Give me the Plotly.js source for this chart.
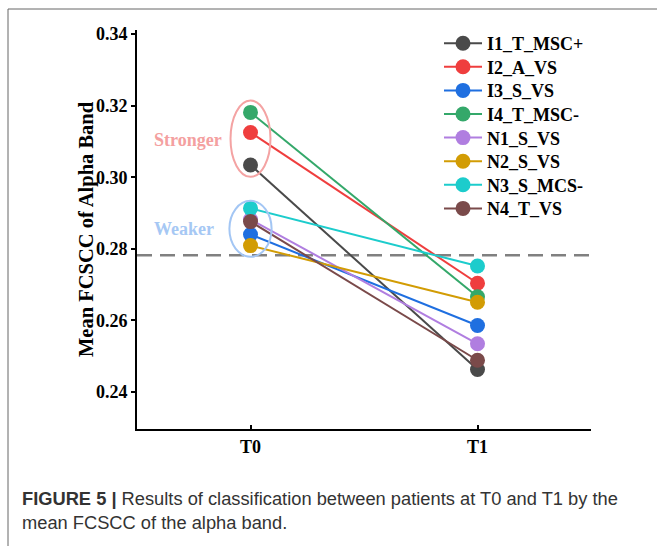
<!DOCTYPE html>
<html>
<head>
<meta charset="utf-8">
<script src="https://cdn.plot.ly/plotly-3.0.1.min.js"></script>
<style>
  html, body { margin: 0; padding: 0; background: #ffffff; }
  #chart { width: 657px; height: 546px; }
</style>
</head>
<body>
<div id="chart"></div>
<script>
// ---- Data ----
const timepoints = ["T0", "T1"];
const seriesNames = ["I1_T_MSC+", "I2_A_VS", "I3_S_VS", "I4_T_MSC-", "N1_S_VS", "N2_S_VS", "N3_S_MCS-", "N4_T_VS"];
const valuesT0 = [0.3034, 0.3125, 0.2840, 0.3181, 0.2882, 0.2809, 0.2913, 0.2876];
const valuesT1 = [0.2463, 0.2704, 0.2586, 0.2666, 0.2535, 0.2651, 0.2752, 0.2489];
const seriesColors = ["#4a4a4a", "#ef3e3e", "#1f6fe0", "#34a86a", "#b07ee0", "#d29c04", "#1ccccc", "#7a4a4a"];
const thresholdValue = 0.2782;
const strongerRange = [0.3001, 0.3214];
const weakerRange = [0.2778, 0.2934];
const yTicks = [0.24, 0.26, 0.28, 0.30, 0.32, 0.34];
const yTitle = "Mean FCSCC of Alpha Band";

const serif = "Liberation Serif, Times New Roman, serif";
const sans = "Liberation Sans, Arial, sans-serif";

// plot-area geometry (pixels) used to place legends / notes in paper units
const plotLeft = 137, plotWidth = 454, plotBottom = 429, plotHeight = 399;
const px2paperX = p => (p - plotLeft) / plotWidth;
const px2paperY = p => (plotBottom - p) / plotHeight;

const traces = seriesNames.map((name, i) => ({
  type: "scatter",
  mode: "lines+markers",
  name: name,
  legend: i === 0 ? "legend" : "legend" + (i + 1),
  x: timepoints,
  y: [valuesT0[i], valuesT1[i]],
  line: { color: seriesColors[i], width: 2 },
  marker: { color: seriesColors[i], size: 15 },
  cliponaxis: false
}));

const layout = {
  width: 657,
  height: 546,
  margin: { l: 137, r: 66, t: 30, b: 117 },
  paper_bgcolor: "#ffffff",
  plot_bgcolor: "#ffffff",
  showlegend: true,
  xaxis: {
    type: "category",
    range: [-0.5, 1.5],
    showline: true, linecolor: "#000000", linewidth: 2,
    ticks: "inside", ticklen: 4, tickwidth: 2, tickcolor: "#000000",
    showgrid: false, zeroline: false,
    tickfont: { family: serif, size: 18, color: "#000000", weight: "bold" }
  },
  yaxis: {
    range: [0.2297, 0.3411],
    tickvals: yTicks,
    ticktext: yTicks.map(v => v.toFixed(2)),
    showline: true, linecolor: "#000000", linewidth: 2,
    ticks: "outside", ticklen: 4, tickwidth: 2, tickcolor: "#000000",
    showgrid: false, zeroline: false,
    tickfont: { family: serif, size: 18, color: "#000000", weight: "bold" }
  },
  shapes: [
    { type: "line", xref: "paper", yref: "y", x0: 0, x1: 1, y0: thresholdValue, y1: thresholdValue,
      line: { color: "#808080", width: 2.5, dash: "15px,8px" }, layer: "below" },
    { type: "circle", xref: "x", yref: "y", x0: -0.088, x1: 0.088, y0: strongerRange[0], y1: strongerRange[1],
      line: { color: "#f4a3a3", width: 2 } },
    { type: "circle", xref: "x", yref: "y", x0: -0.093, x1: 0.093, y0: weakerRange[0], y1: weakerRange[1],
      line: { color: "#a3c6f4", width: 2 } },
    // figure frame
    { type: "line", xref: "paper", yref: "paper", x0: px2paperX(8), x1: 1.2, y0: px2paperY(9), y1: px2paperY(9),
      line: { color: "#666666", width: 1 } },
    { type: "line", xref: "paper", yref: "paper", x0: px2paperX(8), x1: px2paperX(8), y0: px2paperY(9), y1: -0.3,
      line: { color: "#666666", width: 1 } }
  ],
  annotations: [
    { xref: "paper", yref: "paper", x: px2paperX(86), xanchor: "center", y: px2paperY(229), yanchor: "middle",
      textangle: -90, text: "<b>" + yTitle + "</b>", showarrow: false,
      font: { family: serif, size: 20.5, color: "#000000" } },
    { xref: "paper", yref: "y", x: px2paperX(188), xanchor: "center", y: 0.3104, yanchor: "middle",
      text: "<b>Stronger</b>", showarrow: false,
      font: { family: serif, size: 18, color: "#f4a0a0" } },
    { xref: "paper", yref: "y", x: px2paperX(184), xanchor: "center", y: 0.2855, yanchor: "middle",
      text: "<b>Weaker</b>", showarrow: false,
      font: { family: serif, size: 18, color: "#a6c8f4" } },
    { xref: "paper", yref: "paper", x: px2paperX(20), y: px2paperY(498), xanchor: "left", yanchor: "middle",
      text: "<b>FIGURE 5 |</b> Results of classification between patients at T0 and T1 by the",
      showarrow: false, font: { family: sans, size: 18.3, color: "#333333" } },
    { xref: "paper", yref: "paper", x: px2paperX(20), y: px2paperY(522), xanchor: "left", yanchor: "middle",
      text: "mean FCSCC of the alpha band.",
      showarrow: false, font: { family: sans, size: 18.3, color: "#333333" } }
  ]
};

// one legend per series so the row spacing can match the reference
seriesNames.forEach((name, i) => {
  const key = i === 0 ? "legend" : "legend" + (i + 1);
  layout[key] = {
    x: px2paperX(439), xanchor: "left",
    y: px2paperY(43.5 + 23.6 * i), yanchor: "middle",
    bgcolor: "rgba(0,0,0,0)",
    font: { family: serif, size: 18, color: "#000000", weight: "bold" },
    itemwidth: 38
  };
});

Plotly.newPlot("chart", traces, layout, { displayModeBar: false, staticPlot: true });
</script>
</body>
</html>
